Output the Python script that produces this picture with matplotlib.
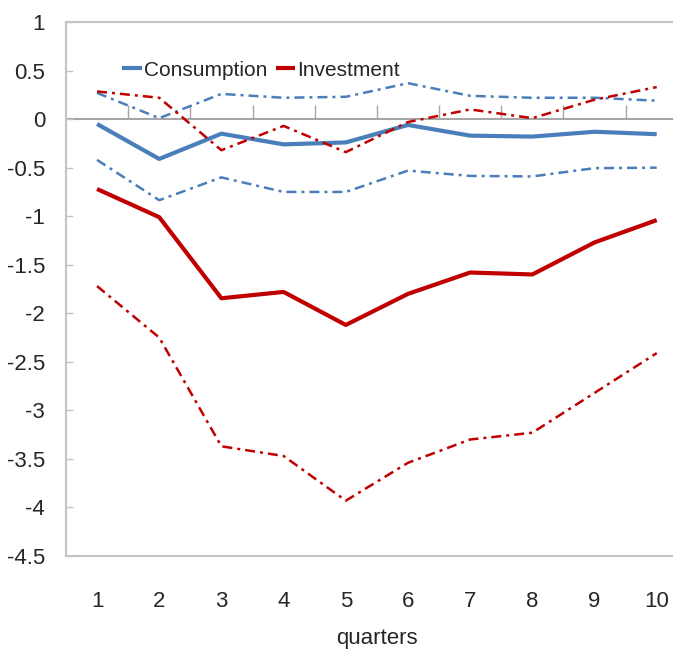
import matplotlib
matplotlib.use("Agg")
import matplotlib.pyplot as plt

plt.rcParams['font.family'] = ['Liberation Sans', 'DejaVu Sans']

quarters = [1, 2, 3, 4, 5, 6, 7, 8, 9, 10]

# impulse responses (solid) with upper / lower bands (dash-dot)
consumption = [-0.05, -0.41, -0.15, -0.26, -0.24, -0.06, -0.17, -0.18, -0.13, -0.155]
consumption_hi = [0.27, 0.01, 0.26, 0.22, 0.23, 0.37, 0.24, 0.22, 0.22, 0.19]
consumption_lo = [-0.42, -0.835, -0.60, -0.75, -0.75, -0.53, -0.585, -0.59, -0.505, -0.50]

investment = [-0.72, -1.01, -1.845, -1.78, -2.12, -1.80, -1.58, -1.60, -1.27, -1.04]
investment_hi = [0.285, 0.22, -0.32, -0.07, -0.34, -0.03, 0.10, 0.01, 0.20, 0.33]
investment_lo = [-1.72, -2.25, -3.37, -3.47, -3.93, -3.54, -3.30, -3.23, -2.82, -2.41]

yticks = [1, 0.5, 0, -0.5, -1, -1.5, -2, -2.5, -3, -3.5, -4, -4.5]
ytick_labels = ['1', '0.5', '0', '-0.5', '-1', '-1.5', '-2', '-2.5', '-3', '-3.5', '-4', '-4.5']

blue = '#4a7ebb'
red = '#c00000'
frame = '#c4c4c4'
text_col = '#262626'
dashdot = (0, (4.0, 2.0, 1.2, 2.0))

fig = plt.figure(figsize=(6.73, 6.58), dpi=100)
ax = fig.add_axes([0.098, 0.155, 0.924, 0.8115])

ax.plot(quarters, consumption, color=blue, lw=3.0, label='Consumption', solid_capstyle='butt')
ax.plot(quarters, investment, color=red, lw=3.0, label='Investment', solid_capstyle='butt')
ax.plot(quarters, consumption_hi, color=blue, lw=1.8, ls=dashdot)
ax.plot(quarters, consumption_lo, color=blue, lw=1.8, ls=dashdot)
ax.plot(quarters, investment_hi, color=red, lw=1.8, ls=dashdot)
ax.plot(quarters, investment_lo, color=red, lw=1.8, ls=dashdot)

ax.set_xlim(0.5, 10.5)
ax.set_ylim(-4.5, 1)
ax.set_yticks(yticks)
ax.set_yticklabels(ytick_labels)
ax.set_xticks(quarters)
ax.set_xticklabels([str(q) for q in quarters])
ax.tick_params(axis='y', direction='in', length=5, width=1, color=frame,
               labelsize=16, pad=15, labelcolor=text_col)
ax.tick_params(axis='x', length=0, labelsize=16, pad=25, labelcolor=text_col)
ax.set_xlabel('quarters', fontsize=16, labelpad=12, color=text_col)

for side in ['left', 'top', 'bottom', 'right']:
    ax.spines[side].set_color(frame)
    ax.spines[side].set_linewidth(1.5)

# category axis crossing at zero, ticks between categories
zero_axis = ax.secondary_xaxis(0, transform=ax.transData)
zero_axis.set_xticks([q + 0.5 for q in quarters[:-1]])
zero_axis.tick_params(axis='x', direction='in', length=10, width=1, color='#a6a6a6',
                      labelbottom=False)
zero_axis.spines['bottom'].set_color('#a6a6a6')
zero_axis.spines['bottom'].set_linewidth(1.5)

ax.legend(loc='center left', bbox_to_anchor=(0.09, 0.91), ncol=2, frameon=False,
          fontsize=15, handlelength=0.95, handletextpad=0.1, columnspacing=0.4,
          borderpad=0, borderaxespad=0, labelcolor=text_col)

fig.savefig('out.png', dpi=100)
